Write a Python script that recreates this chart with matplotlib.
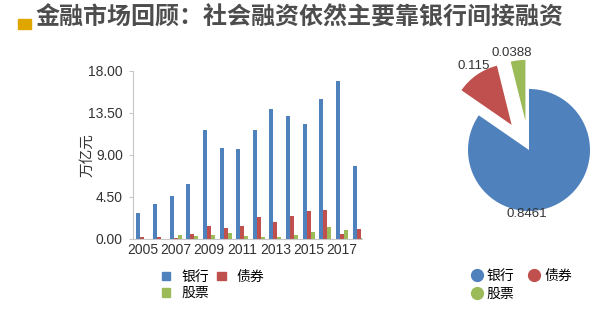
import matplotlib
matplotlib.use("Agg")
import matplotlib.pyplot as plt
import numpy as np
from matplotlib.patches import Rectangle
from matplotlib.lines import Line2D

plt.rcParams['font.family'] = ['Liberation Sans', 'Noto Sans CJK SC', 'DejaVu Sans']

title = "金融市场回顾：社会融资依然主要靠银行间接融资"
years = list(range(2005, 2019))
series_names = ["银行", "债券", "股票"]
bank = [2.75, 3.7, 4.6, 5.88, 11.66, 9.73, 9.63, 11.7, 13.9, 13.2, 12.3, 14.97, 16.9, 7.84]
bond = [0.2, 0.18, 0.15, 0.55, 1.39, 1.18, 1.43, 2.35, 1.85, 2.46, 3.03, 3.1, 0.5, 1.07]
stock = [0.03, 0.05, 0.4, 0.33, 0.4, 0.68, 0.35, 0.2, 0.2, 0.4, 0.78, 1.32, 0.96, 0.1]
yticks = [0.0, 4.5, 9.0, 13.5, 18.0]
xtick_years = [2005, 2007, 2009, 2011, 2013, 2015, 2017]
ylabel = "万亿元"

pie_values = [0.8461, 0.115, 0.0388]
pie_labels = ["0.8461", "0.115", "0.0388"]

colors = ["#4f81bd", "#c0504d", "#9bbb59"]
cjk = ['Noto Sans CJK SC', 'DejaVu Sans']

fig = plt.figure(figsize=(6, 3.19), dpi=100)
W, H = 600, 319

def box(x0, y0, x1, y1):
    return [x0 / W, 1 - y1 / H, (x1 - x0) / W, (y1 - y0) / H]

# Title
fig.patches.append(Rectangle((18 / W, 1 - 28.5 / H), 13 / W, 9.5 / H, transform=fig.transFigure,
                             color="#dfa600", zorder=5))
fig.text(36 / W, 1 - 17.5 / H, title, fontsize=17.3, fontweight='bold', color="#4d4d4d",
         va='center', ha='left', family=cjk)

# Bar chart
ax = fig.add_axes(box(132.7, 70.7, 362, 239))
x = np.arange(len(years))
bw = 0.24
for i, (vals, c) in enumerate(zip([bank, bond, stock], colors)):
    ax.bar(x + (i - 1) * bw, vals, width=bw, color=c, linewidth=0)
ax.set_ylim(0, 18)
ax.set_xlim(-0.58, 13.2)
ax.set_yticks(yticks)
ax.set_yticklabels([f"{v:.2f}" for v in yticks])
ax.set_xticks([years.index(y) for y in xtick_years])
ax.set_xticklabels([str(y) for y in xtick_years])
for s in ["top", "right"]:
    ax.spines[s].set_visible(False)
ax.spines["left"].set_color("#c8c8c8")
ax.spines["bottom"].set_color("#c8c8c8")
ax.tick_params(axis='y', length=3, color="#c8c8c8", labelsize=10, labelcolor="#333333", pad=4)
ax.tick_params(axis='x', length=0, labelsize=10, labelcolor="#333333", pad=3)
ax.set_ylabel(ylabel, fontsize=10.5, color="#333333", labelpad=-4, family=cjk)

# Bar legend (row 1: 银行 债券, row 2: 股票)
order = [0, 2, 1]
handles = [Rectangle((0, 0), 1, 1, color=colors[k]) for k in order]
fig.legend(handles, [series_names[k] for k in order], loc='upper left',
           bbox_to_anchor=(155 / W, 1 - 263 / H),
           ncol=2, frameon=False, handlelength=0.6, handleheight=0.6,
           columnspacing=0.6, handletextpad=0.8, labelspacing=0.15, borderpad=0,
           prop={'family': cjk, 'size': 10})

# Pie chart
pax = fig.add_axes(box(440, 40, 600, 230))
r_px = 61.0
cx, cy = 529.0, 150.0
pax.axis('off')
pax.pie(pie_values, colors=colors, startangle=90, counterclock=False,
        explode=[0, 0.5, 0.48], radius=1.0, wedgeprops=dict(linewidth=0),
        normalize=True)
pax.set_xlim(-(cx - 440) / r_px, (600 - cx) / r_px)
pax.set_ylim(-(230 - cy) / r_px, (cy - 40) / r_px)
pax.set_aspect('auto')
label_pos = [(527, 214), (474, 66), (512, 53)]
for lab, (px, py) in zip(pie_labels, label_pos):
    pax.text((px - cx) / r_px, (cy - py) / r_px, lab, fontsize=9.5, color="#333333",
             ha='center', va='center')

# Pie legend
phandles = [Line2D([0], [0], marker='o', linestyle='none', markersize=8.5,
                   markerfacecolor=colors[k], markeredgecolor=colors[k]) for k in order]
fig.legend(phandles, [series_names[k] for k in order], loc='upper left',
           bbox_to_anchor=(464 / W, 1 - 262 / H),
           ncol=2, frameon=False, handlelength=0.8, columnspacing=1.0, handletextpad=0.35,
           labelspacing=0.25, borderpad=0,
           prop={'family': cjk, 'size': 10})

fig.savefig("out.png", dpi=100)
